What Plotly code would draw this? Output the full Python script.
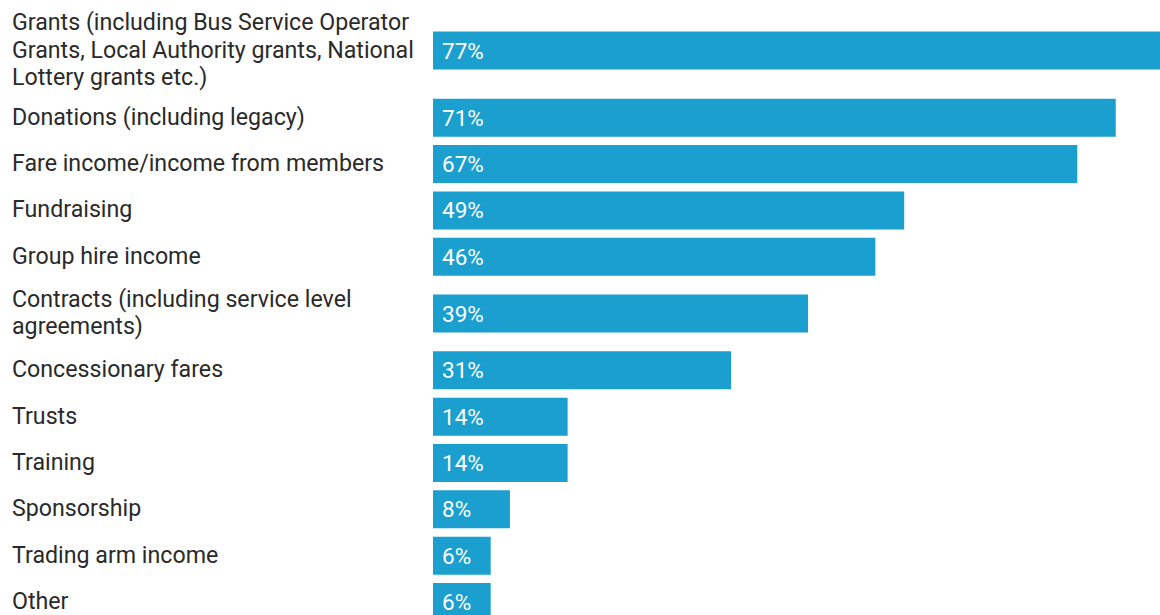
import plotly.graph_objects as go

# Income sources and share of respondents (%)
sources = [
    "Grants (including Bus Service Operator<br>Grants, Local Authority grants, National<br>Lottery grants etc.)",
    "Donations (including legacy)",
    "Fare income/income from members",
    "Fundraising",
    "Group hire income",
    "Contracts (including service level<br>agreements)",
    "Concessionary fares",
    "Trusts",
    "Training",
    "Sponsorship",
    "Trading arm income",
    "Other",
]
shares = [77, 71, 67, 49, 46, 39, 31, 14, 14, 8, 6, 6]

BAR_COLOR = "#1a9fce"
TEXT_COLOR = "#2a2a2a"
FONT = "Roboto"
LABEL_SIZE = 23.2
LINE_GAP = 27.5  # px between lines of a wrapped label

# Rows with wrapped labels get extra vertical room (one row unit per line base,
# plus a fraction for every additional line)
EXTRA_PER_LINE = 0.45
heights = [1 + EXTRA_PER_LINE * s.count("<br>") for s in sources]
centers = []
acc = 0.0
for h in heights:
    centers.append(acc + h / 2)
    acc += h

fig = go.Figure(
    go.Bar(
        x=shares,
        y=centers,
        orientation="h",
        width=0.82,
        marker=dict(color=BAR_COLOR, line=dict(width=0)),
        hoverinfo="skip",
    )
)

annotations = []
for label, yc, v in zip(sources, centers, shares):
    lines = label.split("<br>")
    n = len(lines)
    for i, line in enumerate(lines):
        annotations.append(dict(
            x=0, xref="paper", y=yc, yref="y",
            xanchor="left", yanchor="middle",
            xshift=-423, yshift=((n - 1) / 2 - i) * LINE_GAP + 1,
            text=line, showarrow=False, align="left",
            font=dict(family=FONT, size=LABEL_SIZE, color=TEXT_COLOR),
        ))
    annotations.append(dict(
        x=0, xref="x", y=yc, yref="y",
        xanchor="left", yanchor="middle", xshift=7,
        text=f"{v}%", showarrow=False,
        font=dict(family=FONT, size=22.5, color="white"),
    ))

fig.update_layout(
    width=1160, height=615,
    margin=dict(l=433, r=0, t=0, b=0),
    paper_bgcolor="white", plot_bgcolor="white",
    showlegend=False,
    xaxis=dict(range=[0, 75.6], visible=False, fixedrange=True),
    yaxis=dict(range=[13.13, -0.14], visible=False, fixedrange=True),
    annotations=annotations,
    font=dict(family=FONT),
)

fig.write_html("out.html")
